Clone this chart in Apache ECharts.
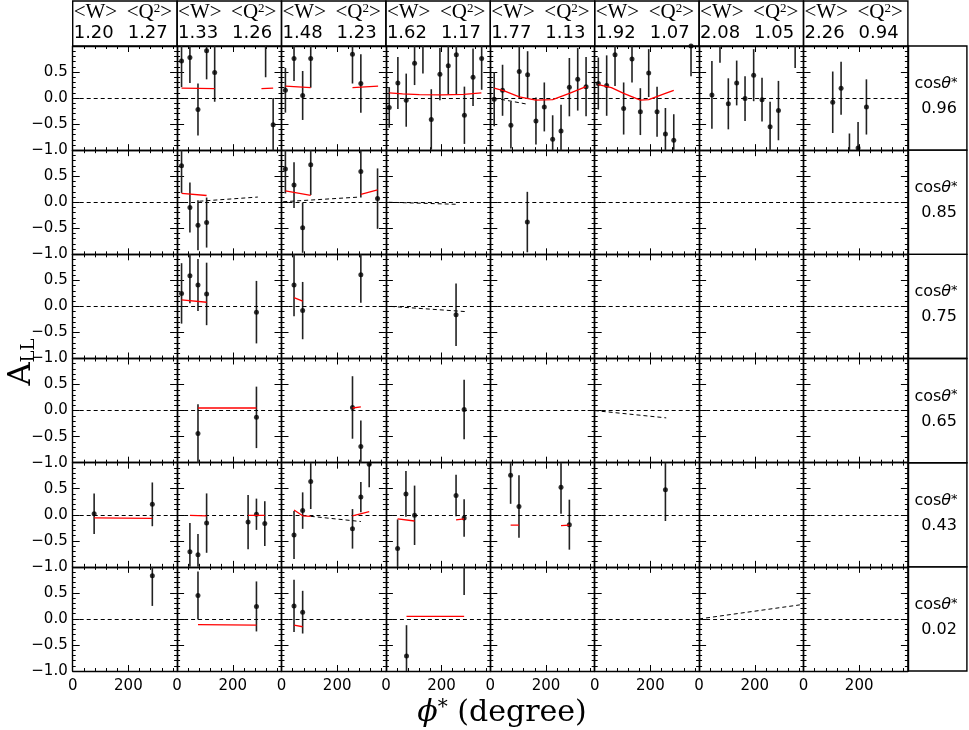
<!DOCTYPE html>
<html>
<head>
<meta charset="utf-8">
<script src="https://cdn.jsdelivr.net/npm/echarts@6/dist/echarts.min.js"></script>
<style>
  html, body { margin: 0; padding: 0; background: #fff; }
  #main { width: 969px; height: 730px; }
</style>
</head>
<body>
<div id="main"></div>
<script>
// bin labels
const wMean = ['1.20', '1.33', '1.48', '1.62', '1.77', '1.92', '2.08', '2.26'];
const q2Mean = ['1.27', '1.26', '1.23', '1.17', '1.13', '1.07', '1.05', '0.94'];
const cosTheta = ['0.96', '0.85', '0.75', '0.65', '0.43', '0.02'];

// axis ranges / steps
const phiRange = [0, 375];
const phiStep = 200;
const allRange = [-1, 1];
const allStep = 0.5;

// measured points per cos(theta*) row: [column, phi, A_LL, error]
const pts096 = [
  [1, 16, 0.71, 0.50], [1, 46, 0.78, 0.49], [1, 75, -0.22, 0.50], [1, 106, 0.91, 0.55], [1, 135, 0.49, 0.56], [1, 318, 1.02, 0.62], [1, 345, -0.51, 0.51],
  [2, 14, 0.15, 0.43], [2, 45, 0.76, 0.43], [2, 76, 0.05, 0.47], [2, 105, 0.76, 0.56], [2, 255, 0.84, 0.56], [2, 285, 0.28, 0.56],
  [3, 12, -0.18, 0.39], [3, 43, 0.29, 0.50], [3, 73, -0.04, 0.51], [3, 103, 0.67, 0.42], [3, 133, 1.05, 0.58], [3, 163, -0.41, 0.58],
  [3, 194, 0.46, 0.50], [3, 224, 0.62, 0.55], [3, 253, 0.83, 0.76], [3, 282, -0.33, 0.55], [3, 313, 0.40, 0.55], [3, 344, 0.76, 0.60],
  [4, 14, -0.02, 0.52], [4, 44, 0.15, 0.49], [4, 74, -0.52, 0.45], [4, 104, 0.51, 0.51], [4, 134, 0.45, 0.45], [4, 164, -0.44, 0.45],
  [4, 194, -0.17, 0.47], [4, 224, -0.79, 0.46], [4, 254, -0.63, 0.50], [4, 284, 0.21, 0.56], [4, 314, 0.36, 0.60], [4, 344, 0.22, 0.57],
  [5, 13, 0.28, 0.50], [5, 43, 0.24, 0.58], [5, 73, 0.83, 0.60], [5, 104, -0.20, 0.50], [5, 134, 0.75, 0.45], [5, 164, -0.26, 0.45],
  [5, 194, 0.48, 0.46], [5, 224, -0.26, 0.48], [5, 254, -0.69, 0.50], [5, 284, -0.81, 0.50], [5, 346, 1.00, 0.58],
  [6, 46, 0.06, 0.65], [6, 75, 1.08, 0.40], [6, 105, -0.11, 0.49], [6, 135, 0.29, 0.43], [6, 165, -0.01, 0.43], [6, 196, 0.44, 0.50],
  [6, 226, -0.03, 0.42], [6, 255, -0.55, 0.48], [6, 285, -0.24, 0.57], [6, 345, 1.10, 0.52],
  [7, 105, -0.08, 0.59], [7, 135, 0.19, 0.51], [7, 165, -1.10, 0.42], [7, 196, -0.96, 0.50], [7, 226, -0.17, 0.53]
];
const pts085 = [
  [1, 16, 0.70, 0.52], [1, 46, -0.10, 0.48], [1, 75, -0.44, 0.48], [1, 106, -0.39, 0.48],
  [2, 14, 0.64, 0.47], [2, 45, 0.33, 0.44], [2, 76, -0.49, 0.48], [2, 105, 0.72, 0.58], [2, 285, 0.59, 0.50], [2, 345, 0.07, 0.58],
  [4, 133, -0.38, 0.58]
];
const pts075 = [
  [1, 16, 0.25, 0.58], [1, 46, 0.59, 0.53], [1, 75, 0.41, 0.50], [1, 106, 0.24, 0.60], [1, 285, -0.11, 0.60],
  [2, 45, 0.41, 0.60], [2, 76, -0.08, 0.55], [2, 285, 0.61, 0.54],
  [3, 252, -0.16, 0.60]
];
const pts065 = [
  [1, 75, -0.44, 0.56], [1, 285, -0.13, 0.59],
  [2, 255, 0.06, 0.60], [2, 285, -0.69, 0.50],
  [3, 281, 0.02, 0.57]
];
const pts043 = [
  [0, 77, 0.02, 0.39], [0, 286, 0.20, 0.42],
  [1, 46, -0.71, 0.55], [1, 75, -0.77, 0.40], [1, 106, -0.16, 0.57], [1, 255, -0.14, 0.52], [1, 285, 0.01, 0.30], [1, 315, -0.17, 0.43],
  [2, 45, -0.39, 0.46], [2, 76, 0.08, 0.35], [2, 105, 0.64, 0.53], [2, 255, -0.27, 0.38], [2, 285, 0.34, 0.29], [2, 315, 0.97, 0.44],
  [3, 42, -0.65, 0.56], [3, 72, 0.40, 0.44], [3, 103, -0.01, 0.57], [3, 252, 0.37, 0.40], [3, 281, -0.06, 0.36],
  [4, 73, 0.76, 0.55], [4, 103, 0.16, 0.60], [4, 254, 0.53, 0.51], [4, 284, -0.19, 0.48],
  [5, 254, 0.48, 0.60]
];
const pts002 = [
  [0, 286, 0.83, 0.58],
  [1, 75, 0.45, 0.46], [1, 285, 0.24, 0.48],
  [2, 45, 0.25, 0.50], [2, 76, 0.13, 0.41],
  [3, 74, -0.71, 0.59], [3, 281, 1.06, 0.60]
];
const pointRows = [pts096, pts085, pts075, pts065, pts043, pts002];

// red model curves: [row, column, [[phi, A], ...]]
const redCurves = [
  [0, 1, [[16, 0.19], [135, 0.18]]], [0, 1, [[303, 0.18], [345, 0.19]]],
  [0, 2, [[14, 0.23], [105, 0.20]]], [0, 2, [[255, 0.20], [347, 0.23]]],
  [0, 3, [[12, 0.10], [60, 0.08], [120, 0.065], [200, 0.06], [280, 0.07], [343, 0.10]]],
  [0, 4, [[14, 0.19], [50, 0.14], [104, 0.025], [164, -0.04], [224, -0.03], [284, 0.09], [344, 0.22]]],
  [0, 5, [[13, 0.26], [60, 0.20], [104, 0.09], [164, -0.04], [194, -0.03], [254, 0.09], [284, 0.15]]],
  [1, 1, [[16, 0.17], [106, 0.13]]],
  [1, 2, [[14, 0.22], [105, 0.13]]], [1, 2, [[285, 0.15], [345, 0.24]]],
  [2, 1, [[16, 0.125], [106, 0.08]]],
  [2, 2, [[45, 0.17], [76, 0.10]]],
  [3, 1, [[75, 0.05], [285, 0.05]]],
  [3, 2, [[255, 0.05], [285, 0.07]]],
  [4, 0, [[77, -0.06], [286, -0.07]]],
  [4, 1, [[46, -0.01], [106, -0.02]]], [4, 1, [[255, -0.01], [315, -0.01]]],
  [4, 2, [[45, 0.09], [76, -0.02], [105, -0.03]]], [4, 2, [[255, -0.02], [315, 0.06]]],
  [4, 3, [[42, -0.08], [103, -0.12]]], [4, 3, [[252, -0.10], [281, -0.08]]],
  [4, 4, [[73, -0.20], [103, -0.20]]], [4, 4, [[254, -0.21], [284, -0.20]]],
  [5, 1, [[75, -0.11], [285, -0.12]]],
  [5, 2, [[45, -0.12], [76, -0.15]]],
  [5, 3, [[74, 0.05], [281, 0.05]]]
];

// black dashed model lines: [row, column, [[phi, A], ...]]
const dashCurves = [
  [0, 4, [[14, 0.0], [136, -0.12]]],
  [1, 1, [[80, 0.02], [290, 0.10]]],
  [1, 2, [[6, 0.01], [281, 0.10]]],
  [1, 3, [[10, 0.0], [257, -0.04]]],
  [2, 3, [[18, 0.0], [288, -0.10]]],
  [3, 5, [[0, 0.0], [257, -0.14]]],
  [4, 2, [[105, -0.03], [285, -0.13]]],
  [5, 6, [[0, 0.0], [362, 0.27]]]
];

const nCol = 8, nRow = 6;
const x0 = 72.7, y0 = 46, colW = 104.4, rowH = 104.17;

let myChart = echarts.init(document.getElementById('main'));

const grid = [], xAxis = [], yAxis = [], series = [];
const lineAx = { show: true, onZero: false, lineStyle: { color: '#000', width: 1.4 } };

function fmtA (v) {
  return (v < 0 ? '\u2212' : '') + Math.abs(v).toFixed(1);
}

for (let r = 0; r < nRow; r++) {
  for (let c = 0; c < nCol; c++) {
    const g = r * nCol + c;
    grid.push({ left: x0 + c * colW, top: y0 + r * rowH, width: colW, height: rowH });
    ['bottom', 'top'].forEach(pos => {
      xAxis.push({
        type: 'value', gridIndex: g, position: pos,
        min: phiRange[0], max: phiRange[1], interval: phiStep,
        axisLine: lineAx,
        axisTick: { inside: true, length: 6, lineStyle: { color: '#000', width: 1 } },
        minorTick: { show: true, splitNumber: 5, length: 3, lineStyle: { color: '#000', width: 1 } },
        splitLine: { show: false },
        axisLabel: {
          show: pos === 'bottom' && r === nRow - 1,
          showMaxLabel: false,
          color: '#000', fontSize: 15, fontFamily: 'DejaVu Sans', margin: 8
        }
      });
    });
    ['left', 'right'].forEach(pos => {
      yAxis.push({
        type: 'value', gridIndex: g, position: pos,
        min: allRange[0], max: allRange[1], interval: allStep,
        axisLine: lineAx,
        axisTick: { inside: true, length: 7, lineStyle: { color: '#000', width: 1 } },
        minorTick: { show: true, splitNumber: 5, length: 3, lineStyle: { color: '#000', width: 1 } },
        splitLine: { show: false },
        axisLabel: {
          show: pos === 'left' && c === 0,
          showMaxLabel: false,
          formatter: fmtA,
          color: '#000', fontSize: 15, fontFamily: 'DejaVu Sans', margin: 5
        }
      });
    });

    const pts = pointRows[r].filter(p => p[0] === c).map(p => [p[1], p[2], p[3]]);
    // points + zero line
    series.push({
      type: 'scatter', xAxisIndex: 2 * g, yAxisIndex: 2 * g,
      data: pts.map(p => [p[0], p[1]]),
      symbolSize: 5, itemStyle: { color: '#000' }, z: 4, silent: true,
      markLine: {
        silent: true, symbol: 'none', label: { show: false },
        lineStyle: { color: '#000', type: [4, 3], width: 1 },
        data: [{ yAxis: 0 }]
      }
    });
    if (pts.length) {
      series.push({
        type: 'custom', xAxisIndex: 2 * g, yAxisIndex: 2 * g,
        data: pts, encode: { x: 0, y: 1 }, z: 3, silent: true,
        renderItem: function (params, api) {
          const x = api.value(0), y = api.value(1), e = api.value(2);
          const lo = Math.max(y - e, allRange[0]), hi = Math.min(y + e, allRange[1]);
          if (lo >= hi) return;
          const p1 = api.coord([x, lo]), p2 = api.coord([x, hi]);
          return {
            type: 'line',
            shape: { x1: p1[0], y1: p1[1], x2: p2[0], y2: p2[1] },
            style: { stroke: '#222', lineWidth: 1.6 }
          };
        }
      });
    }
  }
}

redCurves.forEach(([r, c, seg]) => {
  const g = r * nCol + c;
  series.push({
    type: 'line', xAxisIndex: 2 * g, yAxisIndex: 2 * g, data: seg,
    symbol: 'none', silent: true, z: 5,
    lineStyle: { color: '#f00', width: 1.3 }
  });
});
dashCurves.forEach(([r, c, seg]) => {
  const g = r * nCol + c;
  series.push({
    type: 'line', xAxisIndex: 2 * g, yAxisIndex: 2 * g, data: seg,
    symbol: 'none', silent: true, z: 5,
    lineStyle: { color: '#000', width: 1, type: [4, 3] }
  });
});

// header boxes, right-hand boxes, titles
const graphic = [];
for (let c = 0; c < nCol; c++) {
  const left = x0 + c * colW;
  graphic.push({ type: 'rect', shape: { x: left, y: 1, width: colW, height: y0 - 1 }, style: { fill: 'none', stroke: '#000', lineWidth: 1.4 } });
  graphic.push({ type: 'text', x: left + 1, y: 2, style: { text: '<W>', font: '21px "Liberation Serif"', fill: '#000' } });
  graphic.push({
    type: 'text', x: left + 54, y: 2,
    style: { text: '<Q{s|2}>', font: '21px "Liberation Serif"', fill: '#000', rich: { s: { fontSize: 13, fontFamily: 'Liberation Serif', verticalAlign: 'top' } } }
  });
  graphic.push({ type: 'text', x: left + 1, y: 24, style: { text: wMean[c], font: '18px "DejaVu Sans"', fill: '#000' } });
  graphic.push({ type: 'text', x: left + 55, y: 24, style: { text: q2Mean[c], font: '18px "DejaVu Sans"', fill: '#000' } });
}
for (let r = 0; r < nRow; r++) {
  const top = y0 + r * rowH;
  graphic.push({ type: 'rect', shape: { x: x0 + nCol * colW, y: top, width: 59, height: rowH }, style: { fill: 'none', stroke: '#000', lineWidth: 1.4 } });
  graphic.push({
    type: 'text', x: 936, y: top + 38,
    style: {
      text: 'cos{i|\u03b8}{s|*}', font: '16px "DejaVu Sans"', fill: '#000', align: 'center', verticalAlign: 'middle',
      rich: { i: { fontStyle: 'italic', fontSize: 16, fontFamily: 'DejaVu Sans' }, s: { fontSize: 13, verticalAlign: 'top', fontFamily: 'DejaVu Sans' } }
    }
  });
  graphic.push({
    type: 'text', x: 939, y: top + 63,
    style: { text: cosTheta[r], font: '16px "DejaVu Sans"', fill: '#000', align: 'center', verticalAlign: 'middle' }
  });
}
graphic.push({
  type: 'text', x: 22, y: 362, rotation: Math.PI / 2,
  style: {
    text: '{a|A}{s|LL}', align: 'center', verticalAlign: 'middle', fill: '#000',
    rich: { a: { fontSize: 32, fontFamily: 'DejaVu Serif' }, s: { fontSize: 18, fontFamily: 'DejaVu Serif', verticalAlign: 'bottom' } }
  }
});
graphic.push({
  type: 'text', x: 502, y: 713,
  style: {
    text: '{p|\u03d5}{s|*} (degree)', font: '30px "DejaVu Serif"', align: 'center', verticalAlign: 'middle', fill: '#000',
    rich: { p: { fontSize: 30, fontStyle: 'italic', fontFamily: 'DejaVu Serif' }, s: { fontSize: 20, verticalAlign: 'top', fontFamily: 'DejaVu Serif' } }
  }
});

myChart.setOption({
  animation: false,
  backgroundColor: '#fff',
  grid: grid,
  xAxis: xAxis,
  yAxis: yAxis,
  series: series,
  graphic: graphic
});
window.onresize = myChart.resize;
</script>
</body>
</html>
